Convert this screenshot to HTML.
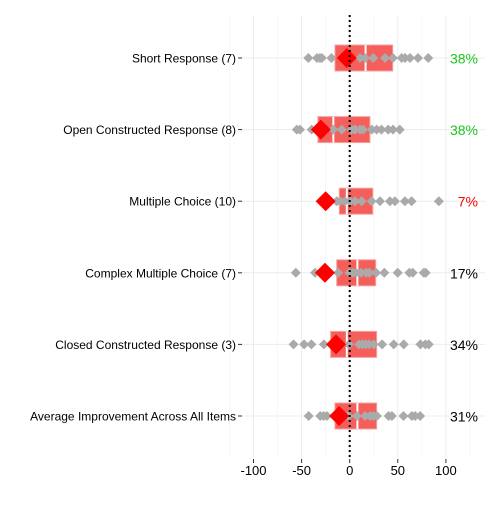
<!DOCTYPE html>
<html><head><meta charset="utf-8"><style>
html,body{margin:0;padding:0;background:#fff;}
svg text{font-family:"Liberation Sans",Arial,sans-serif;}
</style></head><body>
<svg id="chart" width="500" height="500" viewBox="0 0 500 500" xmlns="http://www.w3.org/2000/svg">
<g id="grid"></g>
<g id="rows"></g>
<line x1="349.7" y1="15" x2="349.7" y2="458" stroke="#000" stroke-width="2" stroke-dasharray="2,3"/>
<g id="axis"></g>
</svg>
<script>
const categories = ["Short Response (7)","Open Constructed Response (8)","Multiple Choice (10)","Complex Multiple Choice (7)","Closed Constructed Response (3)","Average Improvement Across All Items"];
const q1 = [-15.3,-33,-10.8,-13.5,-19.8,-15.3];
const medians = [16.5,-17,-3,8,-3,8];
const q3 = [44.7,21,24,27,28,28];
const means = [-3,-30,-25,-25.7,-14.2,-11];
const pctLabels = ["38%","38%","7%","17%","34%","31%"];
const pctColors = ["#1dc51d","#1dc51d","#ff0000","#000000","#000000","#000000"];
const points = [
 [-43,-34,-31,-29,-19,10.7,16,24.5,36.7,45,54,57.5,62.7,71,81.7],
 [-55,-51.7,-39.5,-17,-8.3,2,5.5,10.7,14,23,28,33,40,45,52],
 [-13.5,-10,-5,0.3,5.5,12.5,22.8,31.5,41.8,47,57.4,64.3,92.7],
 [-56,-36,-12,-0.3,3.2,6.6,11.8,17,20.5,27.4,36,49.9,62,65.5,77,79],
 [-58.4,-47.4,-39.8,-26.8,-14.7,-0.8,9.6,13,16.5,20,25,33.7,45.8,56.2,73.5,78.7,82.2],
 [-42.7,-30.6,-27.1,-23.7,-1.2,7.5,16.1,21.3,24.8,28.3,40.4,43.8,55.9,64.6,68,73.2]
];
const xTicks = [-100,-50,0,50,100];
const xMinor = [-125,-75,-25,25,75,125];

const NS="http://www.w3.org/2000/svg";
const x = v => 349.7 + v*0.962;
const y = i => 58 + i*71.6;
function mk(tag, attrs, parent){const e=document.createElementNS(NS,tag);for(const k in attrs)e.setAttribute(k,attrs[k]);parent.appendChild(e);return e;}
const grid=document.getElementById('grid'), rows=document.getElementById('rows'), axis=document.getElementById('axis');
xMinor.forEach(v=>{const l=mk('line',{x1:x(v),x2:x(v),y1:15,y2:458,stroke:'#f4f4f4','stroke-width':0.6},grid);

});
xTicks.forEach(v=>{const l=mk('line',{x1:x(v),x2:x(v),y1:15,y2:458,stroke:'#ececec','stroke-width':1},grid);


const t=mk('line',{x1:x(v),x2:x(v),y1:459,y2:463,stroke:'#333','stroke-width':1},axis);


const tx=mk('text',{x:x(v),y:475,'font-size':13,'text-anchor':'middle',fill:'#000'},axis);tx.textContent=v;

});
categories.forEach((c,i)=>{
 const yy=y(i);
 const gl=mk('line',{x1:240,x2:485,y1:yy,y2:yy,stroke:'#ececec','stroke-width':1},grid);
 
 
 const tk=mk('line',{x1:238,x2:242,y1:yy,y2:yy,stroke:'#333','stroke-width':1},axis);
 
 
 const lb=mk('text',{x:236,y:yy+4.5,'font-size':12,'text-anchor':'end',fill:'#000'},axis);lb.textContent=c;
 
 
 const b1=mk('rect',{x:x(q1[i]),y:yy-13,width:x(medians[i])-x(q1[i]),height:26,fill:'#f45f5c',stroke:'#f8a0a0','stroke-width':1},rows);
 
 
 const b2=mk('rect',{x:x(medians[i]),y:yy-13,width:x(q3[i])-x(medians[i]),height:26,fill:'#f45f5c',stroke:'#f8a0a0','stroke-width':1},rows);
 
 
 const md=mk('line',{x1:x(medians[i]),x2:x(medians[i]),y1:yy-13,y2:yy+13,stroke:'#fff','stroke-width':2},rows);
 
 
 points[i].forEach(v=>{const px=x(v);
  const p=mk('polygon',{points:`${px},${yy-5} ${px+5},${yy} ${px},${yy+5} ${px-5},${yy}`,fill:'#aaaaaa'},rows);
  
  });
 const mx=x(means[i]);
 const m=mk('polygon',{points:`${mx},${yy-10} ${mx+10},${yy} ${mx},${yy+10} ${mx-10},${yy}`,fill:'#ff0000'},rows);
 
 
 const pt=mk('text',{x:478,y:yy+5.5,'font-size':14,'text-anchor':'end',fill:pctColors[i]},rows);pt.textContent=pctLabels[i];
 
 
});
</script>
</body></html>
